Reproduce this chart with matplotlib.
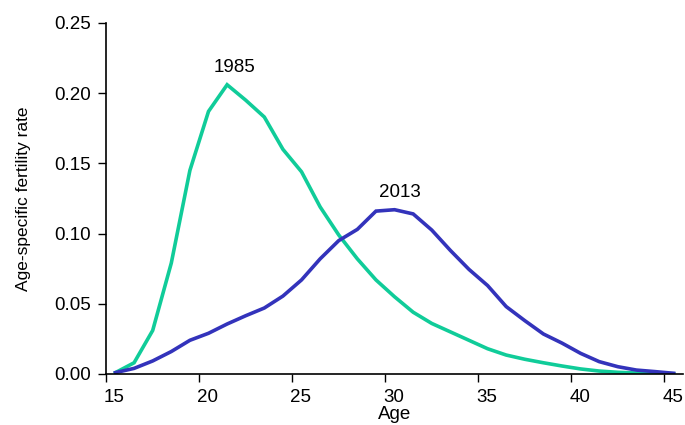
import matplotlib.pyplot as plt

# ages 15..45, plotted at mid-year (age + 0.5)
ages = list(range(15, 46))
asfr_1985 = [0.001, 0.008, 0.031, 0.079, 0.145, 0.187, 0.206, 0.195, 0.183, 0.160,
             0.144, 0.119, 0.099, 0.082, 0.067, 0.055, 0.044, 0.036, 0.030, 0.024,
             0.018, 0.0135, 0.0105, 0.008, 0.0057, 0.0036, 0.0021, 0.0012, 0.0007,
             0.0004, 0.0002]
asfr_2013 = [0.001, 0.004, 0.0093, 0.016, 0.024, 0.029, 0.0356, 0.0415, 0.047, 0.0555,
             0.067, 0.082, 0.095, 0.103, 0.116, 0.117, 0.114, 0.1025, 0.088, 0.0745,
             0.063, 0.048, 0.038, 0.0285, 0.022, 0.0147, 0.0088, 0.0052, 0.0028,
             0.0017, 0.0005]
xticks = [15, 20, 25, 30, 35, 40, 45]
yticks = [0.00, 0.05, 0.10, 0.15, 0.20, 0.25]

plt.rcParams['font.family'] = ['Liberation Sans', 'DejaVu Sans']
fs = 13.5

fig = plt.figure(figsize=(6.85, 4.25), dpi=100)
ax = fig.add_axes([0.155, 0.12, 0.842, 0.826])

x = [a + 0.5 for a in ages]
ax.plot(x, asfr_1985, color='#10CC99', lw=2.6, solid_joinstyle='miter')
ax.plot(x, asfr_2013, color='#3333BB', lw=2.6, solid_joinstyle='miter')

ax.text(21.9, 0.218, '1985', ha='center', va='center', fontsize=fs)
ax.text(30.8, 0.1296, '2013', ha='center', va='center', fontsize=fs)

ax.set_xlim(15, 46)
ax.set_ylim(0, 0.25)

# ticks on whole ages, labels centred on the year they stand for
ax.set_xticks(xticks)
ax.set_xticklabels([])
ax.set_xticks([t + 0.45 for t in xticks], minor=True)
ax.set_xticklabels([str(t) for t in xticks], minor=True, fontsize=fs)
ax.tick_params(axis='x', which='minor', length=0, pad=11)
ax.tick_params(axis='x', which='major', length=6, width=1, direction='out')

ax.set_yticks(yticks)
ax.set_yticklabels(['%.2f' % t for t in yticks], fontsize=fs)
ax.tick_params(axis='y', length=6, width=1, direction='out', pad=5)

for s in ['top', 'right']:
    ax.spines[s].set_visible(False)
for s in ['left', 'bottom']:
    ax.spines[s].set_linewidth(1.2)

ax.set_xlabel('Age', fontsize=fs, labelpad=0)
ax.set_ylabel('Age-specific fertility rate', fontsize=12.5, labelpad=17)

fig.savefig('out.png', dpi=100)
